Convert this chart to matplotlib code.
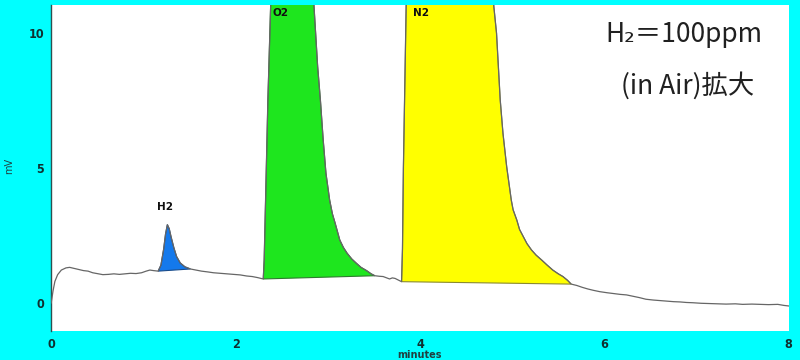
import numpy as np
import matplotlib
matplotlib.use("Agg")
import matplotlib.pyplot as plt

# ---- data (minutes, mV) ----
time_min = [0.00, 0.02, 0.04, 0.07, 0.11, 0.16, 0.20, 0.25, 0.30, 0.35, 0.40, 0.45,
            0.50, 0.56, 0.62, 0.68, 0.74, 0.80, 0.86, 0.92, 0.98, 1.03, 1.07, 1.11,
            1.16, 1.19, 1.22, 1.24, 1.26, 1.28, 1.30, 1.33, 1.36, 1.40, 1.45, 1.51,
            1.57, 1.63, 1.70, 1.76, 1.83, 1.90, 1.97, 2.05, 2.12, 2.18, 2.24, 2.30,
            2.31, 2.33, 2.35, 2.38, 2.40, 2.83, 2.85, 2.89, 2.92, 2.95, 2.98, 3.02,
            3.05, 3.08, 3.13, 3.17, 3.21, 3.26, 3.31, 3.36, 3.42, 3.47, 3.51, 3.56,
            3.60, 3.64, 3.67, 3.70, 3.73, 3.76, 3.80, 3.81, 3.82, 3.84, 3.85, 3.87,
            4.78, 4.80, 4.83, 4.85, 4.87, 4.90, 4.94, 4.99, 5.01, 5.05, 5.08, 5.12,
            5.16, 5.21, 5.26, 5.32, 5.38, 5.44, 5.50, 5.55, 5.60, 5.64, 5.70, 5.76,
            5.82, 5.88, 5.95, 6.03, 6.10, 6.17, 6.24, 6.31, 6.38, 6.45, 6.53, 6.60,
            6.68, 6.75, 6.82, 6.89, 6.96, 7.05, 7.15, 7.25, 7.32, 7.42, 7.50, 7.60,
            7.68, 7.78, 7.88, 7.95, 8.00]
signal_mv = [0.00, 0.45, 0.80, 1.05, 1.22, 1.30, 1.32, 1.28, 1.24, 1.20, 1.18, 1.12,
             1.09, 1.05, 1.06, 1.08, 1.06, 1.08, 1.10, 1.09, 1.12, 1.18, 1.22, 1.20,
             1.18, 1.40, 2.00, 2.55, 2.90, 2.75, 2.45, 2.05, 1.72, 1.48, 1.34, 1.26,
             1.22, 1.18, 1.15, 1.12, 1.10, 1.08, 1.06, 1.04, 1.00, 0.98, 0.94, 0.89,
             1.60, 4.50, 7.50, 11.00, 13.00, 13.00, 11.00, 8.75, 7.50, 6.04, 4.80, 3.81,
             3.30, 2.95, 2.33, 2.05, 1.84, 1.63, 1.47, 1.32, 1.20, 1.08, 1.01, 0.99,
             0.98, 0.93, 0.89, 0.93, 0.91, 0.86, 0.79, 2.00, 5.00, 9.00, 11.00, 13.00,
             13.00, 11.00, 9.99, 8.75, 7.52, 6.28, 5.05, 3.81, 3.45, 3.07, 2.72, 2.46,
             2.20, 1.96, 1.77, 1.59, 1.40, 1.22, 1.08, 0.98, 0.84, 0.70, 0.65, 0.58,
             0.52, 0.47, 0.42, 0.38, 0.35, 0.32, 0.30, 0.25, 0.20, 0.14, 0.11, 0.09,
             0.07, 0.05, 0.04, 0.02, 0.01, -0.01, -0.02, -0.03, -0.04, -0.03, -0.05, -0.04,
             -0.05, -0.06, -0.05, -0.09, -0.11]

peak_names = ["H2", "O2", "N2"]
peak_start = [1.16, 2.30, 3.80]
peak_end = [1.51, 3.51, 5.64]
peak_colors = ["#1479EC", "#1EE61E", "#FFFF00"]
peak_edges = ["#1A4C8A", "#2E7A2E", "#8A8A30"]
label_x = [1.15, 2.40, 3.92]
label_y = [3.55, 10.72, 10.72]

x_ticks = [0, 2, 4, 6, 8]
y_ticks = [0, 5, 10]

t = np.array(time_min)
s = np.array(signal_mv)

fig = plt.figure(figsize=(8, 3.6), dpi=100, facecolor="#00FFFF")
ax = fig.add_axes([0.064, 0.081, 0.922, 0.905])
ax.set_facecolor("white")

for name, a, b, fc, ec in zip(peak_names, peak_start, peak_end, peak_colors, peak_edges):
    m = (t >= a - 1e-9) & (t <= b + 1e-9)
    ax.fill(t[m], s[m], facecolor=fc, edgecolor=ec, linewidth=0.8, zorder=2)

ax.plot(t, s, color="#666666", linewidth=0.9, zorder=3)

for name, lx, ly in zip(peak_names, label_x, label_y):
    ax.text(lx, ly, name, fontsize=7.5, fontweight="bold", color="#101010",
            ha="left", va="center", zorder=4)

ax.set_xlim(0, 8)
ax.set_ylim(-1.03, 11.03)
ax.set_xticks(x_ticks)
ax.set_yticks(y_ticks)
ax.tick_params(length=0, pad=5, labelsize=9, labelcolor="#103030")
for lab in ax.get_xticklabels() + ax.get_yticklabels():
    lab.set_fontweight("bold")
    lab.set_fontstretch("condensed")

for side in ["top", "right", "bottom"]:
    ax.spines[side].set_visible(False)
ax.spines["left"].set_color("#2F5050")
ax.spines["left"].set_linewidth(1.0)

fig.text(0.012, 0.54, "mV", rotation=90, fontsize=7, color="#204040",
         ha="center", va="center")
fig.text(0.524, 0.013, "minutes", fontsize=7, fontweight="bold", color="#204040",
         ha="center", va="center")

fam = ["Noto Sans CJK JP", "DejaVu Sans"]
fig.text(0.855, 0.905, "H\u2082\uff1d100ppm", fontsize=19, color="#202020",
         ha="center", va="center", family=fam)
fig.text(0.859, 0.762, "(in Air)拡大", fontsize=19, color="#202020",
         ha="center", va="center", family=fam)

fig.savefig("out.png", dpi=100, facecolor=fig.get_facecolor())
